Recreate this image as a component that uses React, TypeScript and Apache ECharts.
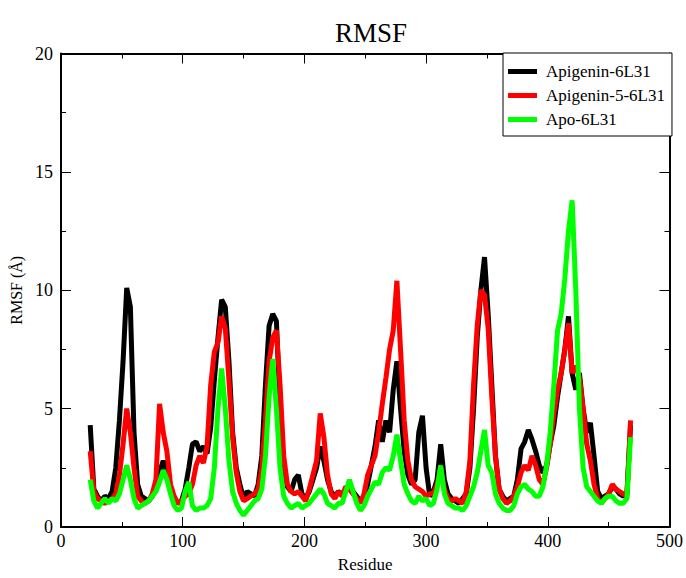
import React, { useEffect, useRef } from "react";
import * as echarts from "echarts";

const residues = [
  24, 27, 30, 33, 36, 39, 42, 45, 48, 51, 54, 57, 60, 63, 66, 69, 72, 75, 78, 81,
  84, 87, 90, 93, 96, 99, 102, 105, 108, 111, 114, 117, 120, 123, 126, 129, 132, 135, 138, 141,
  144, 147, 150, 153, 156, 159, 162, 165, 168, 171, 174, 177, 180, 183, 186, 189, 192, 195, 198, 201,
  204, 207, 210, 213, 216, 219, 222, 225, 228, 231, 234, 237, 240, 243, 246, 249, 252, 255, 258, 261,
  264, 267, 270, 273, 276, 279, 282, 285, 288, 291, 294, 297, 300, 303, 306, 309, 312, 315, 318, 321,
  324, 327, 330, 333, 336, 339, 342, 345, 348, 351, 354, 357, 360, 363, 366, 369, 372, 375, 378, 381,
  384, 387, 390, 393, 396, 399, 402, 405, 408, 411, 414, 417, 420, 423, 426, 429, 432, 435, 438, 441,
  444, 447, 450, 453, 456, 459, 462, 465, 468,
];

const apigenin = [
  4.3, 1.6, 1.3, 1.1, 1.3, 1.2, 1.5, 2.5, 4.5, 7.0, 10.1, 9.3, 4.0, 1.8, 1.3, 1.2, 1.1, 1.3, 1.6, 2.3,
  2.8, 2.2, 1.5, 1.2, 1.0, 1.1, 1.6, 2.5, 3.5, 3.6, 3.2, 3.4, 3.1, 4.2, 6.2, 8.0, 9.6, 9.3, 7.0, 4.0,
  2.5, 1.8, 1.2, 1.5, 1.4, 1.3, 1.8, 3.0, 6.0, 8.5, 9.0, 8.7, 5.0, 2.5, 1.7, 1.5, 2.0, 2.2, 1.4, 1.2,
  1.5, 2.0, 2.5, 3.4, 2.8, 2.0, 1.5, 1.3, 1.5, 1.4, 1.5, 1.8, 1.5, 1.3, 1.1, 1.3, 1.8, 2.6, 3.4, 4.5,
  3.6, 4.5, 4.0, 5.8, 7.0, 5.0, 3.2, 2.2, 1.8, 2.0, 4.0, 4.7, 2.5, 1.3, 1.5, 2.0, 3.5, 2.0, 1.4, 1.2,
  1.1, 1.0, 1.2, 1.4, 2.5, 5.0, 8.0, 10.0, 11.4, 9.0, 6.0, 3.0, 1.6, 1.3, 1.1, 1.2, 1.3, 2.0, 3.3, 3.6,
  4.1, 3.7, 3.2, 2.6, 2.3, 2.6, 3.5, 4.3, 5.5, 6.5, 7.5, 8.9, 6.5, 5.8, 6.5, 5.0, 4.0, 4.4, 3.0, 1.5,
  1.2, 1.3, 1.4, 1.7, 1.6, 1.4, 1.3, 1.4, 4.3,
];

const apigenin5 = [
  3.2, 1.5, 1.2, 1.1, 1.0, 1.1, 1.2, 1.4, 2.2, 3.5, 5.0, 4.0, 2.5, 1.3, 1.1, 1.0, 1.1, 1.4, 2.0, 5.2,
  4.0, 3.2, 1.8, 1.3, 1.0, 1.1, 1.3, 1.4, 1.8, 2.6, 3.0, 2.7, 3.4, 6.0, 7.4, 7.8, 8.9, 8.4, 6.2, 3.8,
  2.3, 1.5, 1.1, 1.2, 1.3, 1.4, 1.6, 2.5, 4.5, 7.0, 8.0, 8.3, 6.0, 3.0, 1.8, 1.5, 1.4, 1.5, 1.3, 1.1,
  1.6, 2.2, 2.8, 4.8, 3.8, 2.2, 1.4, 1.2, 1.5, 1.3, 1.7, 1.6, 1.4, 1.2, 1.0, 1.4, 2.2, 2.6, 3.0, 4.0,
  5.2, 6.3, 7.5, 8.3, 10.4, 7.5, 4.5, 2.8, 2.0, 1.7, 1.6, 1.5, 1.3, 1.4, 1.4, 1.8, 2.5, 1.6, 1.2, 1.1,
  1.2, 1.1, 1.0, 1.5, 2.8, 6.0, 8.5, 10.0, 9.8, 8.4, 5.5, 3.0, 1.6, 1.2, 1.0, 1.1, 1.3, 1.7, 2.3, 2.6,
  2.4, 3.0, 2.6, 2.0, 1.8, 2.5, 3.5, 4.8, 5.8, 6.5, 7.5, 8.6, 6.5, 6.8, 6.3, 5.0, 3.5, 2.8, 1.8, 1.2,
  1.0, 1.2, 1.4, 1.8, 1.6, 1.5, 1.4, 1.3, 4.5,
];

const apo = [
  2.0, 1.1, 0.8, 1.0, 1.2, 1.0, 1.2, 1.1, 1.4, 2.0, 2.6, 2.0, 1.2, 0.8, 0.9, 1.0, 1.1, 1.3, 1.5, 1.9,
  2.4, 2.0, 1.4, 0.9, 0.7, 0.8, 1.5, 1.9, 0.9, 0.7, 0.8, 0.8, 0.9, 1.2, 2.5, 5.0, 6.7, 5.0, 2.8, 1.5,
  1.0, 0.7, 0.5, 0.7, 0.9, 1.1, 1.2, 1.6, 3.0, 5.5, 7.1, 5.0, 2.5, 1.3, 1.0, 0.8, 0.9, 1.0, 0.8, 0.9,
  1.0, 1.2, 1.4, 1.6, 1.4, 1.0, 0.9, 0.8, 1.0, 1.0, 1.5, 2.0, 1.5, 1.0, 0.7, 0.9, 1.3, 1.6, 1.9, 1.8,
  2.3, 2.5, 2.4, 3.0, 3.9, 2.8, 1.8, 1.4, 1.1, 1.0, 1.3, 1.1, 1.2, 0.9, 1.0, 1.6, 2.6, 1.4, 1.0, 0.9,
  0.8, 0.8, 0.7, 0.9, 1.3, 1.7, 2.3, 3.2, 4.1, 2.6, 2.3, 1.4, 1.0, 0.8, 0.7, 0.7, 0.9, 1.4, 1.7, 1.8,
  1.6, 1.5, 1.3, 1.3, 1.7, 2.6, 4.0, 6.0, 8.3, 9.0, 10.5, 12.5, 13.8, 10.0, 5.0, 2.5, 1.7, 1.5, 1.3, 1.1,
  1.0, 1.2, 1.3, 1.3, 1.1, 1.0, 1.0, 1.2, 3.8,
];

const seriesNames = ["Apigenin-6L31", "Apigenin-5-6L31", "Apo-6L31"];
const seriesColors = ["#000000", "#ff0000", "#00ff00"];
const xTicks = [0, 100, 200, 300, 400, 500];
const yTicks = [0, 5, 10, 15, 20];

const FONT = "Liberation Serif";

export default function App() {
  const ref = useRef<HTMLDivElement>(null);

  useEffect(() => {
    if (!ref.current) return;
    const chart = echarts.init(ref.current, null, { renderer: "svg" });
    const allSeries = [apigenin, apigenin5, apo];

    const axisCommon = {
      axisLine: { show: true, onZero: false, lineStyle: { color: "#000", width: 2 } },
      axisTick: { show: true, inside: true, length: 10, lineStyle: { color: "#000", width: 1 } },
      minorTick: { show: true, splitNumber: 2, length: 5, lineStyle: { color: "#000", width: 1 } },
      splitLine: { show: false },
    };

    chart.setOption({
      animation: false,
      backgroundColor: "#fff",
      title: {
        text: "RMSF",
        left: 366,
        textAlign: "center",
        top: 14,
        textStyle: { fontFamily: FONT, fontSize: 27, fontWeight: "normal", color: "#000" },
      },
      legend: {
        data: seriesNames,
        orient: "vertical",
        left: 503,
        top: 53,
        padding: [10, 7, 8, 5],
        itemGap: 7,
        itemWidth: 29,
        itemHeight: 5,
        icon: "rect",
        backgroundColor: "#fff",
        borderColor: "#000",
        borderWidth: 1,
        textStyle: { fontFamily: FONT, fontSize: 17, color: "#000", padding: [0, 0, 0, 4] },
      },
      grid: { left: 61, right: 14, top: 53.5, bottom: 40.5, containLabel: false },
      xAxis: [
        {
          type: "value",
          min: xTicks[0],
          max: xTicks[xTicks.length - 1],
          interval: 100,
          position: "bottom",
          name: "Residue",
          nameLocation: "middle",
          nameGap: 29,
          nameTextStyle: { fontFamily: FONT, fontSize: 17, color: "#000" },
          axisLabel: { fontFamily: FONT, fontSize: 18, color: "#000", margin: 5 },
          ...axisCommon,
        },
        {
          type: "value",
          min: xTicks[0],
          max: xTicks[xTicks.length - 1],
          interval: 100,
          position: "top",
          axisLabel: { show: false },
          ...axisCommon,
        },
      ],
      yAxis: [
        {
          type: "value",
          min: yTicks[0],
          max: yTicks[yTicks.length - 1],
          interval: 5,
          position: "left",
          name: "RMSF (Å)",
          nameLocation: "middle",
          nameGap: 27,
          nameTextStyle: { fontFamily: FONT, fontSize: 16, color: "#000" },
          axisLabel: { fontFamily: FONT, fontSize: 18, color: "#000", margin: 8 },
          ...axisCommon,
        },
        {
          type: "value",
          min: yTicks[0],
          max: yTicks[yTicks.length - 1],
          interval: 5,
          position: "right",
          axisLabel: { show: false },
          ...axisCommon,
        },
      ],
      series: allSeries.map((vals, i) => ({
        name: seriesNames[i],
        type: "line",
        xAxisIndex: 0,
        yAxisIndex: 0,
        data: residues.map((r, j) => [r, vals[j]]),
        showSymbol: false,
        symbol: "none",
        lineStyle: { color: seriesColors[i], width: 5 },
        itemStyle: { color: seriesColors[i] },
        z: 2 + i,
      })),
    });

    return () => chart.dispose();
  }, []);

  return <div ref={ref} style={{ width: 686, height: 578, position: "absolute", left: 0, top: 0 }} />;
}
